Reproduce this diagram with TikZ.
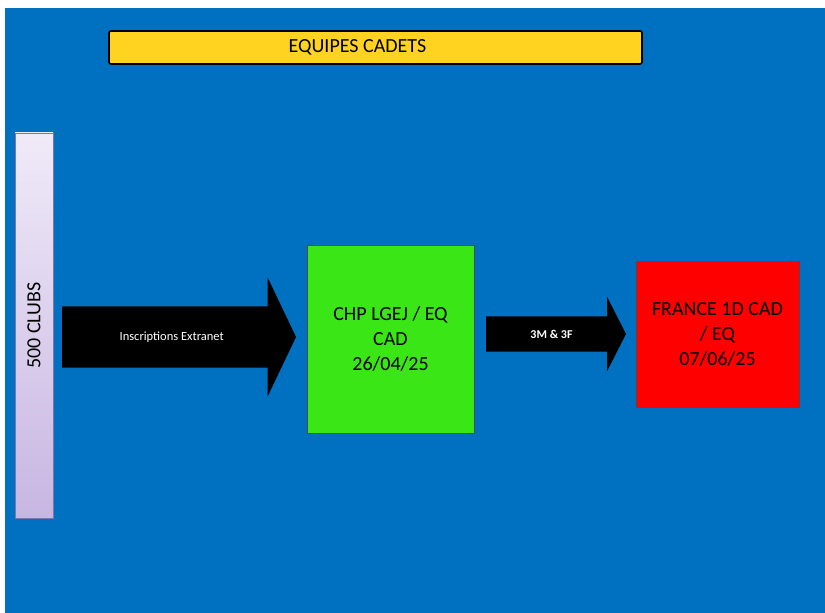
\documentclass[tikz,border=0pt]{standalone}
\usepackage{fontspec}
\setmainfont{Carlito}
\usetikzlibrary{shapes.arrows}

\definecolor{bgblue}{RGB}{0,112,192}
\definecolor{titleyellow}{RGB}{255,211,32}
\definecolor{cupgreen}{RGB}{58,230,22}
\definecolor{finalred}{RGB}{255,0,0}
\definecolor{clubstop}{RGB}{240,234,248}
\definecolor{clubsbottom}{RGB}{200,182,226}
\definecolor{clubsline}{RGB}{128,118,170}

\tikzset{
	stagebox/.style = {draw = black!70, line width = 0.8pt, inner sep = 0pt, outer sep = 0pt,
		align = center, font = \fontsize{20}{25}\selectfont},
	flowarrow/.style = {single arrow, fill = black, inner xsep = 0pt, outer sep = 0pt,
		text = white, font = \fontsize{12.5}{14}\selectfont}
}

\begin{document}
\begin{tikzpicture}[x = 1pt, y = 1pt]

	% Page and background

	\fill [white] (0, 0) rectangle (825, 613);
	\fill [bgblue] (5, 0) rectangle (825, 605);

	% Title bar

	\node [stagebox, fill = titleyellow, draw = black, line width = 1.6pt, rounded corners = 2pt,
		minimum width = 533pt, minimum height = 33pt] (title) at (375.5, 565.5) {};
	\node [font = \fontsize{20}{25}\selectfont] (titletxt) at ([xshift = -18pt] title.center) {EQUIPES CADETS};

	% Clubs column

	\node [stagebox, draw = clubsline, top color = clubstop, bottom color = clubsbottom,
		minimum width = 38pt, minimum height = 385pt] (clubs) at (34, 287.5) {};
	\node [rotate = 90, font = \fontsize{20}{25}\selectfont] (clubstxt) at (clubs.center) {500 CLUBS};

	% Competitions

	\node [stagebox, fill = cupgreen, minimum width = 167pt, minimum height = 188pt]
		(lgej) at (390.5, 274) {CHP LGEJ / EQ\\CAD\\26/04/25};
	\node [stagebox, fill = finalred, minimum width = 163pt, minimum height = 146pt]
		(france) at (717.5, 279) {FRANCE 1D CAD\\/ EQ\\07/06/25};

	% Qualification arrows

	\node [flowarrow, anchor = tip, inner ysep = 25pt, minimum height = 234pt, minimum width = 118pt,
		single arrow head extend = 29pt, single arrow tip angle = 129]
		(inscr) at ([xshift = -11pt, yshift = 2pt] lgej.west) {Inscriptions Extranet};
	\node [flowarrow, anchor = tip, inner ysep = 13pt, minimum height = 140pt, minimum width = 74pt,
		single arrow head extend = 19pt, single arrow tip angle = 126,
		font = \bfseries\fontsize{12}{14}\selectfont]
		(quota) at ([xshift = -10pt] france.west) {3M \& 3F};

\end{tikzpicture}
\end{document}
